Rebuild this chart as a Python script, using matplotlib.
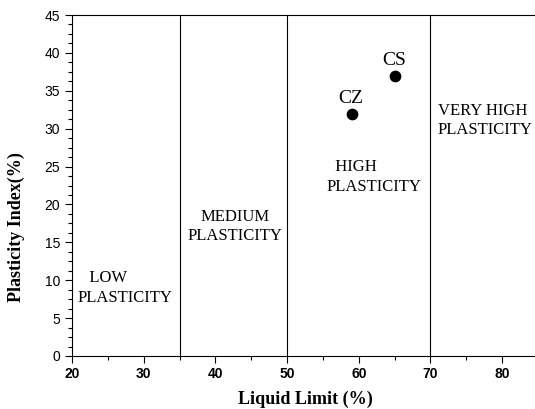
import matplotlib
matplotlib.use("Agg")
import matplotlib.pyplot as plt
from matplotlib.ticker import MultipleLocator, AutoMinorLocator

# samples (liquid limit, plasticity index)
names = ["CZ", "CS"]
ll = [59, 65]
pi = [32, 37]

# plasticity zone boundaries
bounds = [35, 50, 70]
zones = ["   LOW\nPLASTICITY", "MEDIUM\nPLASTICITY", "  HIGH\nPLASTICITY", "VERY HIGH\nPLASTICITY"]
zone_xy = [(20.7, 9.0), (42.8, 17.1), (55.5, 23.6), (71.0, 31.1)]
zone_ha = ["left", "center", "left", "left"]

serif = "Liberation Serif"
sans = "Liberation Sans"

fig = plt.figure(figsize=(5.35, 4.09), dpi=100)
ax = fig.add_axes([0.1346, 0.1296, 0.871, 0.8337])

ax.scatter(ll, pi, s=55, color="black", zorder=3)
for n, x, y in zip(names, ll, pi):
    ax.text(x - 0.1, y + 0.9, n, ha="center", va="bottom", fontsize=14, family=serif)

for b in bounds:
    ax.axvline(b, color="black", lw=0.8)

for z, (x, y), h in zip(zones, zone_xy, zone_ha):
    ax.text(x, y, z, ha=h, va="center", fontsize=12, family=serif, linespacing=1.3,
            multialignment="left" if h == "left" else "center")

ax.set_xlim(20, 85)
ax.set_ylim(0, 45)
ax.xaxis.set_major_locator(MultipleLocator(10))
ax.xaxis.set_minor_locator(AutoMinorLocator(2))
ax.yaxis.set_major_locator(MultipleLocator(5))
ax.yaxis.set_minor_locator(AutoMinorLocator(4))
ax.tick_params(which="major", direction="out", length=5, width=0.8)
ax.tick_params(which="minor", direction="out", length=3, width=0.8)
ax.tick_params(axis="x", pad=3)

for lab in ax.get_xticklabels():
    lab.set_fontfamily(sans)
    lab.set_fontweight("bold")
    lab.set_fontsize(10)
for lab in ax.get_yticklabels():
    lab.set_fontfamily(sans)
    lab.set_fontsize(10)

ax.set_xlabel("Liquid Limit (%)", fontsize=13, fontweight="bold", family=serif, labelpad=7)
ax.set_ylabel("Plasticity Index(%)", fontsize=13, fontweight="bold", family=serif)
ax.yaxis.set_label_coords(-0.1, 0.378)

fig.savefig("out.png", dpi=100)
